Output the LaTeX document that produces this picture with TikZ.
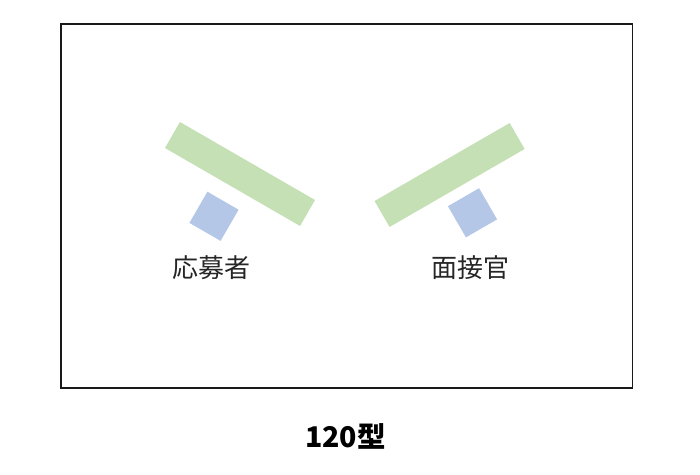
\documentclass[tikz,border=0pt]{standalone}
\usepackage{fontspec}
\newfontfamily\jp{Noto Sans CJK JP}
\definecolor{seatgreen}{HTML}{C5E0B4}
\definecolor{seatblue}{HTML}{B4C7E7}
\begin{document}
\begin{tikzpicture}[x=1pt,y=1pt,
  desk/.style={fill=seatgreen,minimum width=156pt,minimum height=30pt,inner sep=0pt},
  chair/.style={fill=seatblue,minimum size=36pt,inner sep=0pt},
  role/.style={font=\jp\fontsize{26}{30}\selectfont,text=black!85,inner sep=0pt}]
\useasboundingbox (0,0) rectangle (700,474);

\draw[line width=1.2pt,black!90] (61,86) rectangle (632.7,450);

% left side
\node[desk,rotate=-30] (deskL) at (240,300) {};
\node[chair,rotate=-30] (chairL) at (214,257.7) {};
\node[role] (applicant) at (211.5,206) {応募者};

% right side
\node[desk,rotate=30] (deskR) at (449.6,299) {};
\node[chair,rotate=30] (chairR) at (472.5,261.2) {};
\node[role] (interviewer) at (470,206.5) {面接官};

\node[font=\jp\bfseries\fontsize{28.5}{32}\selectfont,inner sep=0pt] (title) at (345.5,37.3) {120型};

\end{tikzpicture}
\end{document}
